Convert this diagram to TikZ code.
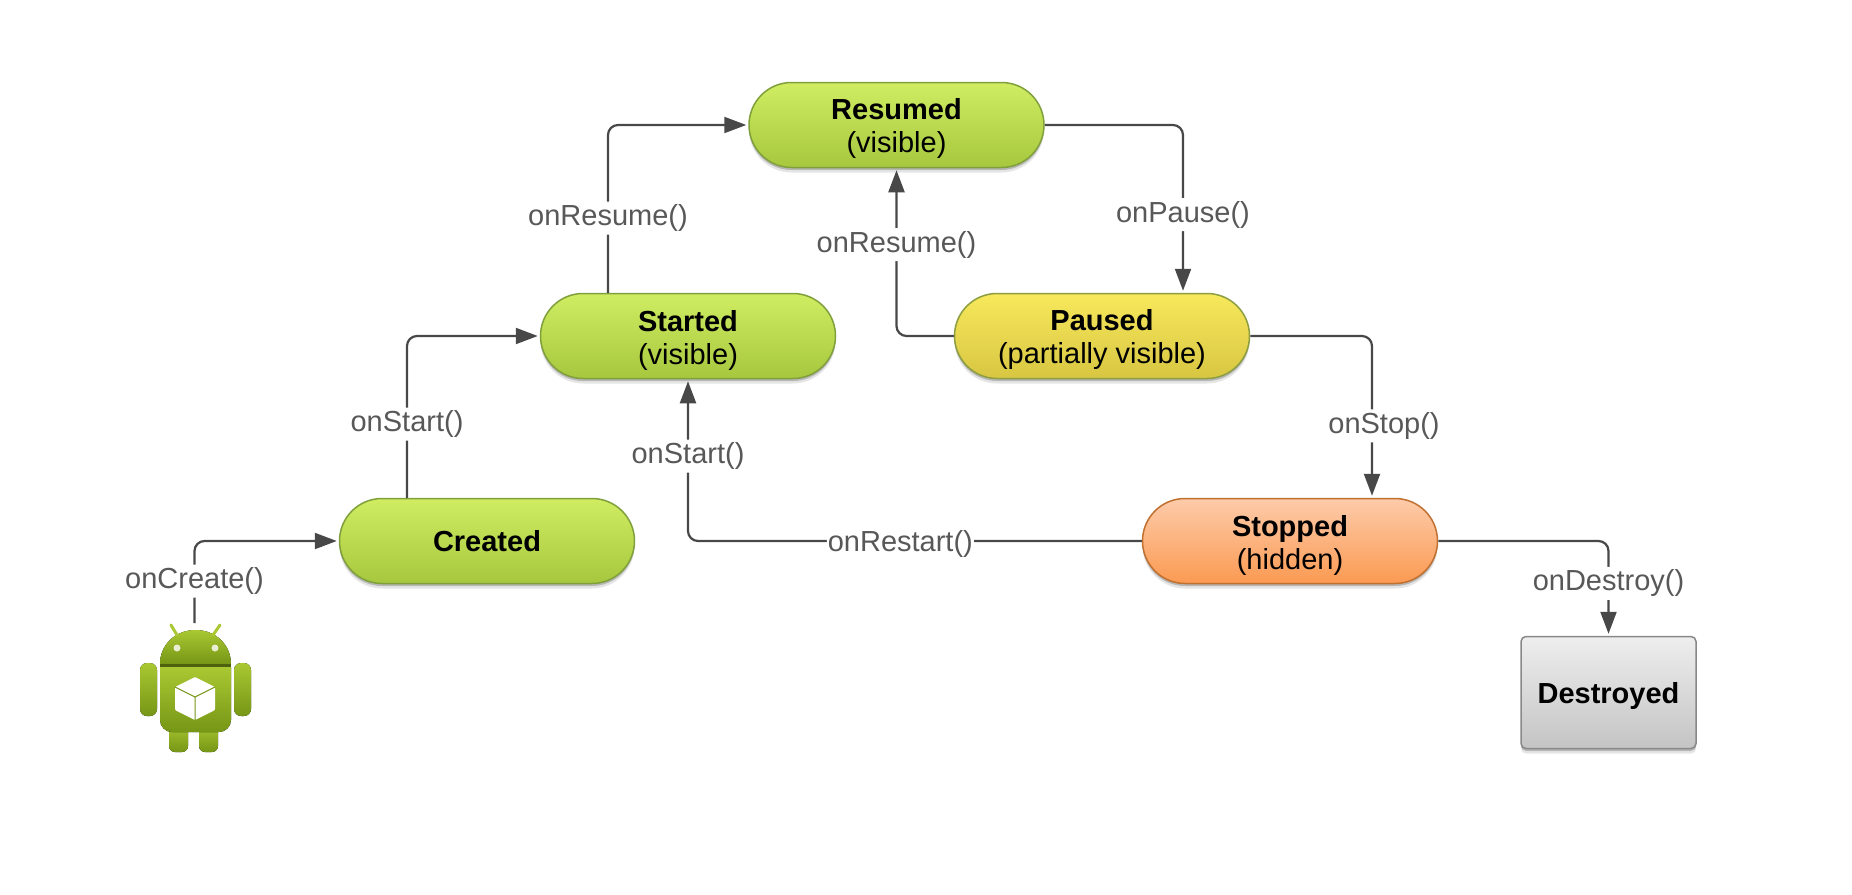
\documentclass[tikz,border=0pt]{standalone}
\usepackage{fontspec}
\setmainfont{Liberation Sans}
\usetikzlibrary{arrows.meta,shapes.misc,shadows}
\definecolor{LeafTop}{RGB}{208,237,98}
\definecolor{LeafBottom}{RGB}{166,199,62}
\definecolor{LeafEdge}{RGB}{128,160,60}
\definecolor{SunTop}{RGB}{247,232,92}
\definecolor{SunBottom}{RGB}{216,198,66}
\definecolor{SunEdge}{RGB}{140,158,64}
\definecolor{PeachTop}{RGB}{253,203,170}
\definecolor{PeachBottom}{RGB}{251,154,82}
\definecolor{PeachEdge}{RGB}{192,112,48}
\definecolor{AshTop}{RGB}{238,238,238}
\definecolor{AshBottom}{RGB}{196,196,196}
\definecolor{AshEdge}{RGB}{136,136,136}
\definecolor{WireGrey}{RGB}{72,72,72}
\definecolor{LabelGrey}{RGB}{88,88,88}
\definecolor{RobotLight}{RGB}{170,200,50}
\definecolor{RobotDark}{RGB}{118,150,22}
\newcommand{\statetext}[2]{\rule{0pt}{29pt}\textbf{#1}\\(#2)}
\tikzset{
  softshadow/.style={
    drop shadow={shadow xshift=0pt,shadow yshift=-5pt,opacity=.10,fill=black},
    drop shadow={shadow xshift=0pt,shadow yshift=-2.5pt,opacity=.20,fill=black}},
  statebox/.style={rounded rectangle,draw,line width=1.5pt,minimum width=295pt,
    minimum height=85pt,inner sep=0pt,align=center,text=black,
    font=\fontsize{29}{33}\selectfont,softshadow},
  livebox/.style={statebox,top color=LeafTop,bottom color=LeafBottom,draw=LeafEdge},
  pausebox/.style={statebox,top color=SunTop,bottom color=SunBottom,draw=SunEdge},
  stopbox/.style={statebox,top color=PeachTop,bottom color=PeachBottom,draw=PeachEdge},
  endbox/.style={draw=AshEdge,line width=1.5pt,rounded corners=5pt,top color=AshTop,
    bottom color=AshBottom,minimum width=175pt,minimum height=112pt,inner sep=0pt,
    font=\fontsize{29}{33}\selectfont,softshadow,
    execute at begin node={\rule{0pt}{28pt}}},
  flow/.style={-{Triangle[length=22pt,width=16pt]},line width=2.2pt,WireGrey,
    rounded corners=10pt,shorten >=2pt},
  fnlabel/.style={fill=white,text=LabelGrey,inner xsep=1pt,inner ysep=3pt,yshift=-2.5pt,
    font=\fontsize{29}{33}\selectfont},
  robot/.style={top color=RobotLight,bottom color=RobotDark,draw=none}
}
\begin{document}
\begin{tikzpicture}[x=1pt,y=-1pt]
  \useasboundingbox (0,0) rectangle (1852,894);
  \node[livebox] (resumed) at (896.5,125) {\statetext{Resumed}{visible}};
  \node[livebox] (started) at (688,336) {\statetext{Started}{visible}};
  \node[pausebox] (paused) at (1102,336) {\statetext{Paused}{partially visible}};
  \node[livebox] (created) at (487,541) {\textbf{Created}};
  \node[stopbox] (stopped) at (1290,541) {\statetext{Stopped}{hidden}};
  \node[endbox] (destroyed) at (1608.5,692.5) {\textbf{Destroyed}};
  \coordinate (droid) at (194.5,623);

  \foreach \lx in {169,199}{
    \fill[robot,rounded corners=6pt] (\lx,722) rectangle (\lx+19,752);}
  \fill[robot] (160,664) .. controls (160,645) and (175,630) .. (195.5,630)
    .. controls (216,630) and (231,645) .. (231,664) -- cycle;
  \foreach \sx/\tx in {177/171,213/220}{
    \draw[RobotLight,line width=3pt,line cap=round] (\sx,635) -- (\tx,625);}
  \foreach \ex in {177,215}{
    \fill[white,opacity=.8] (\ex,648) circle (3.5pt);}
  \fill[robot] (160,667) -- (231,667) [rounded corners=12pt] -- (231,732) -- (160,732)
    [sharp corners] -- cycle;
  \fill[RobotDark!65!black] (160,664) rectangle (231,667);
  \foreach \ax in {140,234}{
    \fill[robot,rounded corners=7pt] (\ax,663) rectangle (\ax+17,716);}
  \fill[white,rounded corners=1pt] (195,677) -- (215,687) -- (215,710) -- (195,720)
    -- (175,710) -- (175,687) -- cycle;
  \draw[RobotDark,line width=1pt] (175,687) -- (195,697) -- (215,687) (195,697) -- (195,720);

  \draw[flow] (droid) |- node[fnlabel,pos=.27] (oncreate) {onCreate()} (created.west);
  \draw[flow] ([xshift=-80pt]created.north) |- node[fnlabel,pos=.235] (onstarta) {onStart()} (started.west);
  \draw[flow] ([xshift=-80pt]started.north) |- node[fnlabel,pos=.23] (onresumea) {onResume()} (resumed.west);
  \draw[flow] (resumed.east) -| node[fnlabel,pos=.76] (onpause) {onPause()} ([xshift=81pt]paused.north);
  \draw[flow] (paused.west) -| node[fnlabel,pos=.78] (onresumeb) {onResume()} (resumed.south);
  \draw[flow] (paused.east) -| node[fnlabel,pos=.77,xshift=12pt] (onstop) {onStop()} ([xshift=82pt]stopped.north);
  \draw[flow] (stopped.west) -| node[fnlabel,pos=.266] (onrestart) {onRestart()}
    node[fnlabel,pos=.77] (onstartb) {onStart()} (started.south);
  \draw[flow] (stopped.east) -| node[fnlabel,pos=.71] (ondestroy) {onDestroy()} (destroyed.north);
\end{tikzpicture}
\end{document}
